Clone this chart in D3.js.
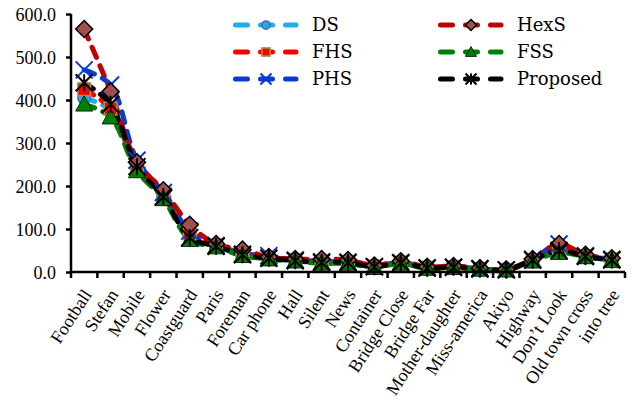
<!DOCTYPE html>
<html>
<head>
<meta charset="utf-8">
<script src="https://cdn.jsdelivr.net/npm/d3@7"></script>
<style>
  body { margin: 0; background: #fff; }
</style>
</head>
<body>
<div id="chart"></div>
<script>
// categories (video sequences)
var categories = ["Football", "Stefan", "Mobile", "Flower", "Coastguard", "Paris", "Foreman",
  "Car phone", "Hall", "Silent", "News", "Container", "Bridge Close", "Bridge Far",
  "Mother-daughter", "Miss-america", "Akiyo", "Highway", "Don\u2019t Look", "Old town cross", "into tree"];

// series values
var DS       = [405, 375, 240, 178, 85, 60, 42, 33, 27, 23, 22, 12, 21, 9, 11, 7, 5, 26, 50, 36, 28];
var FHS      = [425, 380, 245, 180, 90, 62, 44, 34, 28, 24, 22, 13, 22, 10, 11, 7, 5, 27, 55, 37, 29];
var PHS      = [470, 435, 260, 185, 95, 62, 42, 38, 28, 24, 23, 13, 22, 10, 11, 8, 5, 30, 65, 38, 30];
var HexS     = [565, 420, 255, 190, 110, 65, 52, 35, 30, 30, 28, 15, 25, 12, 14, 9, 6, 30, 65, 40, 32];
var FSS      = [390, 360, 235, 170, 75, 58, 38, 30, 25, 20, 20, 10, 20, 8, 10, 6, 4, 25, 45, 35, 26];
var Proposed = [440, 390, 245, 175, 80, 60, 40, 32, 26, 22, 22, 12, 21, 9, 11, 7, 5, 28, 50, 36, 28];

var yTicks = [0, 100, 200, 300, 400, 500, 600];

var series = [
  {name: "DS", values: DS, color: "#1CB0EA", marker: "circle", fill: "#2AA8E6", stroke: "#3A6FB8"},
  {name: "FHS", values: FHS, color: "#FF0000", marker: "square", fill: "#FF0000", stroke: "#8EA64A"},
  {name: "PHS", values: PHS, color: "#0A3BD0", marker: "x", fill: "none", stroke: "#0A3BD0"},
  {name: "HexS", values: HexS, color: "#C00000", marker: "diamond", fill: "#A0504D", stroke: "#000"},
  {name: "FSS", values: FSS, color: "#008000", marker: "triangle", fill: "#008000", stroke: "#008000"},
  {name: "Proposed", values: Proposed, color: "#000000", marker: "star", fill: "none", stroke: "#000"}
];

var svgWidth = 633, svgHeight = 408;
var margin = {top: 14, right: 8, bottom: 136, left: 71};
var width = svgWidth - margin.left - margin.right;
var height = svgHeight - margin.top - margin.bottom;

var svg = d3.select("#chart").append("svg")
  .attr("width", svgWidth)
  .attr("height", svgHeight)
  .append("g")
  .attr("transform", "translate(" + margin.left + "," + margin.top + ")");

var x = d3.scaleBand().domain(categories).range([0, width]);
var y = d3.scaleLinear().domain([0, 600]).range([height, 0]);

// lines
var line = d3.line()
  .x(function(d, i) { return x(categories[i]) + x.bandwidth() / 2; })
  .y(function(d) { return y(d); })
  .curve(d3.curveCatmullRom.alpha(0.5));

function drawMarker(g, type, s, fill, stroke) {
  var r = s / 2;
  if (type === "circle") {
    g.append("circle").attr("r", r * 0.75).attr("fill", fill).attr("stroke", stroke).attr("stroke-width", 1.5);
  } else if (type === "square") {
    g.append("rect").attr("x", -r * 0.75).attr("y", -r * 0.75).attr("width", r * 1.5).attr("height", r * 1.5)
      .attr("fill", fill).attr("stroke", stroke).attr("stroke-width", 1.5);
  } else if (type === "diamond") {
    g.append("path").attr("d", "M0," + (-r) + "L" + r + ",0L0," + r + "L" + (-r) + ",0Z")
      .attr("fill", fill).attr("stroke", stroke).attr("stroke-width", 1.5);
  } else if (type === "triangle") {
    g.append("path").attr("d", "M0," + (-r) + "L" + r + "," + r * 0.8 + "L" + (-r) + "," + r * 0.8 + "Z")
      .attr("fill", fill).attr("stroke", "#000").attr("stroke-width", 0.8);
  } else if (type === "x") {
    g.append("path").attr("d", "M" + (-r) + "," + (-r) + "L" + r + "," + r + "M" + (-r) + "," + r + "L" + r + "," + (-r))
      .attr("stroke", stroke).attr("stroke-width", 2);
  } else if (type === "star") {
    g.append("path").attr("d", "M" + (-r) + "," + (-r) + "L" + r + "," + r + "M" + (-r) + "," + r + "L" + r + "," + (-r) +
      "M0," + (-r) + "L0," + r)
      .attr("stroke", stroke).attr("stroke-width", 2);
  }
}

series.forEach(function(s) {
  svg.append("path")
    .datum(s.values)
    .attr("fill", "none")
    .attr("stroke", s.color)
    .attr("stroke-width", 5)
    .attr("stroke-linecap", "round")
    .attr("stroke-dasharray", "11,9")
    .attr("d", line);
});

series.forEach(function(s) {
  s.values.forEach(function(v, i) {
    var g = svg.append("g")
      .attr("transform", "translate(" + (x(categories[i]) + x.bandwidth() / 2) + "," + y(v) + ")");
    drawMarker(g, s.marker, 17, s.fill, s.stroke);
  });
});

// y axis
var yAxis = svg.append("g")
  .call(d3.axisLeft(y).tickValues(yTicks).tickSize(5).tickFormat(d3.format(".1f")))
  .attr("font-family", "Liberation Serif").attr("font-size", 18);
yAxis.select(".domain").attr("stroke", "#000").attr("stroke-width", 2.5).attr("d", "M0,0V" + height);
yAxis.selectAll(".tick line").attr("stroke-width", 2.5);
yAxis.selectAll("text").attr("x", -15).attr("dy", "0.35em").attr("fill", "#000");

// x axis with ticks at category boundaries
var xAxis = svg.append("g").attr("transform", "translate(0," + height + ")");
xAxis.append("line").attr("x1", 0).attr("x2", width).attr("stroke", "#000").attr("stroke-width", 2.5);
xAxis.selectAll(".xt").data(d3.range(categories.length + 1)).enter().append("line")
  .attr("x1", function(i) { return i * x.step(); })
  .attr("x2", function(i) { return i * x.step(); })
  .attr("y1", 0).attr("y2", 6)
  .attr("stroke", "#000").attr("stroke-width", 2.5);
xAxis.selectAll(".xl").data(categories).enter().append("text")
  .attr("transform", function(d) {
    return "translate(" + (x(d) + x.bandwidth() / 2 + 3) + ",19) rotate(-57)";
  })
  .attr("text-anchor", "end")
  .attr("dy", "0.35em")
  .attr("font-family", "Liberation Serif")
  .attr("font-size", 18)
  .text(function(d) { return d; });

// legend
var legend = d3.select("svg").append("g");
series.forEach(function(s, i) {
  var col = i < 3 ? 0 : 1;
  var row = i % 3;
  var lx = col === 0 ? 233 : 438;
  var ly = 25 + row * 27;
  var g = legend.append("g").attr("transform", "translate(" + lx + "," + ly + ")");
  g.append("line").attr("x1", 2.5).attr("x2", 63).attr("stroke", s.color)
    .attr("stroke-width", 5).attr("stroke-linecap", "round").attr("stroke-dasharray", "12,13");
  var m = g.append("g").attr("transform", "translate(33,0)");
  drawMarker(m, s.marker, 11, s.fill, s.stroke);
  g.append("text").attr("x", 79).attr("dy", "0.35em")
    .attr("font-family", "DejaVu Serif").attr("font-size", 18).text(s.name);
});
</script>
</body>
</html>
